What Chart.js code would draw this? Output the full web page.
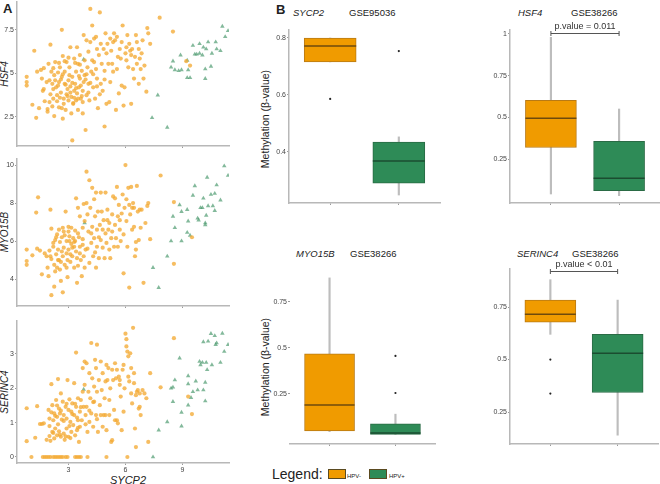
<!DOCTYPE html>
<html>
<head>
<meta charset="utf-8">
<script src="https://cdn.jsdelivr.net/npm/chart.js@4.4.1/dist/chart.umd.min.js"></script>
<style>
html, body { margin: 0; padding: 0; background: #fff; }
body { width: 660px; height: 484px; position: relative; overflow: hidden; font-family: "Liberation Sans", Arial, sans-serif; color: #222; }
canvas { position: absolute; }
.t { position: absolute; white-space: nowrap; line-height: 1; }
.it { font-style: italic; }
.rot { transform: translate(-50%, -50%) rotate(-90deg); }
.key { position: absolute; width: 16px; height: 8px; border: 1px solid #5a4a20; }
</style>
</head>
<body>
<div class="t" style="left:3px;top:2px;font-size:13px;font-weight:bold;">A</div>
<div class="t" style="left:276px;top:3px;font-size:13px;font-weight:bold;">B</div>

<div class="t it rot" style="left:5px;top:74px;font-size:10px;">HSF4</div>
<div class="t it rot" style="left:5px;top:232px;font-size:10px;">MYO15B</div>
<div class="t it rot" style="left:5px;top:392px;font-size:10px;">SERINC4</div>
<div class="t it" style="left:110px;top:475px;font-size:11px;">SYCP2</div>

<div class="t it" style="left:293px;top:8px;font-size:9.5px;">SYCP2</div>
<div class="t" style="left:349px;top:8px;font-size:9.5px;">GSE95036</div>
<div class="t it" style="left:518px;top:8px;font-size:9.5px;">HSF4</div>
<div class="t" style="left:571px;top:8px;font-size:9.5px;">GSE38266</div>
<div class="t it" style="left:296px;top:249px;font-size:9.5px;">MYO15B</div>
<div class="t" style="left:350px;top:249px;font-size:9.5px;">GSE38266</div>
<div class="t it" style="left:517px;top:249px;font-size:9.5px;">SERINC4</div>
<div class="t" style="left:572px;top:249px;font-size:9.5px;">GSE38266</div>

<div class="t rot" style="left:265px;top:119px;font-size:10.5px;">Methylation (β-value)</div>
<div class="t rot" style="left:265px;top:367px;font-size:10.5px;">Methylation (β-value)</div>

<div class="t" style="left:272px;top:467px;font-size:14px;">Legend:</div>
<div class="key" style="left:328px;top:469px;background:#f09b00;"></div>
<div class="t" style="left:347px;top:473px;font-size:6px;">HPV-</div>
<div class="key" style="left:369px;top:469px;background:#2e8b57;"></div>
<div class="t" style="left:389px;top:473px;font-size:6px;">HPV+</div>

<canvas id="s1"></canvas>
<canvas id="s2"></canvas>
<canvas id="s3"></canvas>
<canvas id="b1"></canvas>
<canvas id="b2"></canvas>
<canvas id="b3"></canvas>
<canvas id="b4"></canvas>

<script>
// ---- panel A: expression vs SYCP2 (x, y) ----
var hsf4Neg = [
  [0.8,4.8],[0.8,4.5],[0.8,4.3],[1.1,3.2],[1.2,6.3],[1.3,2.45],[1.35,5.1],[1.45,3.0],[1.55,5.2],[1.6,4.7],
  [1.65,4.0],[1.7,5.3],[1.7,4.1],[1.9,2.95],[1.9,2.8],[1.95,5.55],[2.0,3.35],[2.05,6.65],[2.0,4.6],[2.1,5.1],
  [2.15,4.4],[2.2,4.1],[2.2,3.55],[2.25,4.9],[2.25,2.55],[2.3,5.65],[2.35,4.2],[2.4,3.75],[2.45,5.05],[2.5,3.05],
  [2.5,4.5],[2.55,5.35],[2.6,3.9],[2.65,7.5],[2.65,4.8],[2.7,2.4],[2.7,6.0],[2.75,3.55],[2.8,4.4],[2.8,5.1],
  [2.85,2.9],[2.9,3.8],[2.9,5.65],[2.95,4.1],[3.0,4.6],[3.0,3.45],[3.05,5.35],[3.1,6.5],[3.1,4.25],[3.15,3.65],
  [3.2,1.15],[3.2,4.8],[3.25,3.25],[3.3,5.85],[3.3,4.0],[3.35,4.4],[3.4,3.45],[3.4,5.1],[3.45,6.5],[3.45,3.85],
  [3.5,5.55],[3.5,2.9],[3.55,4.2],[3.6,4.7],[3.6,6.05],[3.65,3.55],[3.7,5.15],[3.75,4.0],[3.75,2.7],[3.8,4.5],
  [3.8,7.2],[3.85,5.75],[3.85,4.9],[3.9,1.75],[3.95,3.75],[3.95,6.9],[4.0,5.35],[4.05,4.4],[4.05,6.25],[4.1,3.45],
  [4.15,6.8],[4.15,8.7],[4.2,5.1],[4.25,7.75],[4.25,5.75],[4.3,4.2],[4.35,7.0],[4.35,5.65],[4.4,3.55],[4.45,5.25],
  [4.45,7.1],[4.5,4.7],[4.5,6.4],[4.55,3.0],[4.6,6.05],[4.65,8.5],[4.7,4.4],[4.7,6.7],[4.75,5.55],[4.8,4.0],
  [4.85,6.4],[4.9,1.95],[4.9,5.15],[4.95,7.3],[5.0,6.15],[5.0,3.25],[5.05,6.7],[5.1,5.55],[5.15,3.35],[5.2,4.5],
  [5.2,7.0],[5.25,6.3],[5.3,5.55],[5.35,6.8],[5.35,5.1],[5.4,7.3],[5.45,6.9],[5.5,2.9],[5.55,5.25],[5.55,7.1],
  [5.6,5.95],[5.65,3.85],[5.7,6.4],[5.75,5.85],[5.8,6.8],[5.8,4.3],[5.85,7.75],[5.9,3.15],[5.95,4.2],[6.0,6.15],
  [6.05,6.5],[6.05,5.75],[6.1,7.2],[6.15,5.35],[6.2,6.7],[6.25,6.3],[6.3,3.25],[6.3,6.05],[6.35,6.4],[6.4,5.25],
  [6.45,4.7],[6.5,5.95],[6.55,7.2],[6.6,5.55],[6.6,6.8],[6.7,4.4],[6.7,6.4],[6.75,5.85],[6.8,5.25],[6.85,6.15],
  [6.9,6.9],[6.95,4.7],[7.0,5.45],[7.1,3.95],[7.15,7.6],[7.2,7.3],[7.3,6.7],[7.8,8.2],[8.5,7.4],[9.4,5.45],
  [9.2,5.7],
  [2.3,4.6],[2.45,4.3],[2.6,4.65],[2.7,4.95],[2.85,4.35],[2.95,3.7],[3.05,4.9],[3.2,4.45],[3.3,3.6],[3.4,4.15],
  [3.55,4.85],[3.65,4.3],[3.75,3.35],[3.9,4.65],[4.05,3.9],[2.4,3.4],[2.55,3.6],[2.75,3.25],[3.1,3.9],[3.25,3.3],
  [3.5,3.55],[3.7,3.7],[3.95,4.95],[4.15,4.45],[4.3,4.95],[4.5,4.25],[4.65,3.8],[4.9,4.65],[2.2,5.3],[2.5,5.6],
  [2.8,5.7],[3.0,5.9],[3.35,5.6],[3.6,5.5],[1.85,4.5],[2.05,3.8],[2.15,3.1],[1.75,3.4],[2.65,3.0],[3.15,2.7]
];
var hsf4Pos = [
  [3.8,5.8],[7.4,2.45],[7.7,3.75],[8.2,1.9],[8.4,5.35],[8.5,5.7],[8.6,5.2],[8.9,6.05],[8.8,5.15],[8.95,5.2],
  [9.25,5.75],[9.3,5.2],[9.25,4.75],[9.4,4.75],[9.55,6.6],[9.65,6.1],[9.75,6.1],[9.9,6.7],[9.9,6.15],[10.05,6.05],
  [10.1,6.5],[10.2,5.25],[10.2,4.7],[10.25,6.4],[10.35,6.8],[10.5,5.4],[10.55,6.15],[10.75,6.8],[10.8,6.4],[11.0,6.3],
  [11.25,7.1],[11.4,7.45],[11.1,7.7]
];
var myo15bNeg = [
  [0.8,5.55],[0.8,4.95],[0.8,4.75],[1.1,5.25],[1.3,7.5],[1.4,8.3],[1.35,5.6],[1.5,5.5],[1.6,4.25],[1.75,5.35],
  [1.85,5.2],[1.95,4.15],[2.0,5.5],[2.05,7.65],[2.1,6.65],[2.1,5.05],[2.1,3.15],[2.2,5.7],[2.25,4.75],[2.25,3.6],
  [2.3,6.05],[2.35,5.3],[2.4,6.35],[2.4,4.6],[2.45,5.55],[2.5,6.6],[2.5,5.0],[2.55,5.95],[2.6,3.9],[2.65,6.2],
  [2.7,5.2],[2.7,3.3],[2.75,5.65],[2.75,6.5],[2.8,4.75],[2.85,7.55],[2.9,6.0],[2.9,5.35],[2.95,4.1],[3.0,6.75],
  [3.0,5.55],[3.05,6.25],[3.1,4.9],[3.15,5.85],[3.15,6.7],[3.2,5.2],[3.25,6.15],[3.3,4.6],[3.3,5.7],[3.35,6.55],
  [3.4,8.25],[3.4,5.45],[3.45,3.8],[3.5,7.75],[3.5,4.7],[3.55,6.2],[3.6,5.35],[3.6,7.3],[3.65,5.0],[3.7,4.15],
  [3.75,6.7],[3.75,5.8],[3.8,7.95],[3.85,4.6],[3.85,7.05],[3.9,5.55],[3.95,8.0],[3.95,9.65],[4.0,7.4],[4.05,6.5],
  [4.1,4.85],[4.1,9.2],[4.15,7.75],[4.2,5.9],[4.25,8.8],[4.25,6.75],[4.3,5.2],[4.35,8.2],[4.35,6.15],[4.4,7.3],
  [4.45,4.6],[4.45,8.55],[4.5,6.6],[4.5,5.7],[4.55,7.55],[4.6,5.1],[4.65,6.85],[4.7,8.55],[4.7,6.05],[4.75,7.55],
  [4.8,6.6],[4.8,5.65],[4.85,7.1],[4.9,5.1],[4.95,6.4],[4.95,8.55],[5.0,5.9],[5.05,7.1],[5.05,7.65],[5.1,6.6],
  [5.15,5.55],[5.15,6.95],[5.2,5.1],[5.25,6.15],[5.3,7.4],[5.3,6.5],[5.35,8.35],[5.4,5.7],[5.45,6.85],[5.45,8.25],
  [5.5,6.15],[5.55,8.85],[5.6,7.3],[5.6,5.7],[5.65,7.9],[5.7,6.6],[5.7,7.1],[5.75,6.0],[5.8,7.45],[5.85,8.45],
  [5.9,4.3],[5.9,6.35],[5.95,7.75],[6.0,10.0],[6.05,7.05],[6.05,8.2],[6.1,5.7],[6.15,8.8],[6.2,3.55],[6.2,7.9],
  [6.25,7.4],[6.3,8.85],[6.35,6.6],[6.35,7.75],[6.4,8.0],[6.45,6.75],[6.45,7.75],[6.5,5.2],[6.55,5.55],[6.55,5.95],
  [6.6,8.9],[6.65,7.55],[6.7,6.05],[6.75,7.65],[6.8,6.7],[6.85,7.65],[6.95,3.8],[7.05,6.95],[7.15,7.85],[7.2,8.0],
  [7.3,6.1],[7.85,9.45],[8.55,8.05],[8.55,4.8],[9.5,6.2],
  [2.2,5.9],[2.35,6.2],[2.45,5.0],[2.55,4.5],[2.65,5.45],[2.8,6.3],[2.95,5.0],[3.05,6.0],[3.2,5.65],[3.35,6.0],
  [3.45,5.1],[3.6,5.7],[3.75,6.1],[2.3,4.4],[2.6,4.9],[2.9,4.6],[3.1,5.3],[3.3,5.95],[3.5,6.4],[2.05,5.2],
  [1.9,4.6],[2.7,6.7],[3.0,6.5],[3.8,5.2],[4.0,5.6],[4.2,6.4],[4.4,5.4],[4.6,6.2]
];
var myo15bPos = [
  [3.85,6.95],[7.45,4.6],[7.75,3.55],[8.2,5.2],[8.4,6.0],[8.5,7.3],[8.6,6.7],[8.85,7.9],[8.95,7.55],[8.95,6.0],
  [9.25,7.65],[9.3,7.05],[9.25,6.45],[9.4,6.3],[9.55,8.4],[9.65,8.9],[9.8,7.2],[9.85,7.1],[9.95,7.75],[10.05,7.75],
  [10.1,8.25],[10.2,6.95],[10.2,6.85],[10.25,7.35],[10.3,9.35],[10.35,7.85],[10.5,8.45],[10.6,7.85],[10.7,8.5],[10.7,7.6],
  [10.8,8.95],[11.0,8.15],[11.2,9.95],[11.4,9.45]
];
var serinc4Neg = [
  [1.05,0],[1.65,0],[1.75,0],[1.85,0],[1.95,0],[2.05,0],[2.2,0],[2.3,0],[2.4,0],[2.5,0],
  [2.6,0],[2.7,0],[2.85,0],[2.95,0],[3.35,0],[3.45,0],[3.55,0],[3.65,0],[4.0,0],[5.0,0],[6.1,0],
  [0.8,1.42],[0.8,0.46],[1.25,0.56],[1.35,1.48],[1.5,0.96],[1.6,0.96],[1.7,0.98],[1.85,0.5],[1.95,1.37],[2.0,1.12],
  [2.0,0.61],[2.05,0.47],[2.1,2.12],[2.15,1.51],[2.15,0.73],[2.2,1.07],[2.25,0.54],[2.25,1.27],[2.3,0.83],[2.35,1.66],
  [2.4,0.63],[2.4,1.17],[2.45,2.27],[2.5,1.41],[2.5,0.75],[2.55,1.27],[2.6,0.59],[2.6,1.85],[2.65,1.09],[2.7,1.61],
  [2.75,0.68],[2.75,1.22],[2.8,0.5],[2.85,1.46],[2.9,0.83],[2.9,1.12],[2.95,2.24],[3.0,0.59],[3.0,1.37],[3.05,1.68],
  [3.1,1.02],[3.15,0.73],[3.15,1.32],[3.2,1.56],[3.25,0.93],[3.3,1.22],[3.3,2.15],[3.35,0.63],[3.4,3.04],[3.4,1.46],
  [3.45,0.78],[3.5,1.71],[3.5,1.07],[3.55,0.44],[3.6,1.32],[3.6,0.88],[3.65,1.66],[3.7,1.07],[3.75,2.59],[3.75,1.9],
  [3.8,1.46],[3.85,2.78],[3.85,2.1],[3.9,1.22],[3.95,2.73],[3.95,1.46],[4.0,0.73],[4.05,1.9],[4.1,2.44],[4.1,1.02],
  [4.15,1.71],[4.2,3.32],[4.2,1.27],[4.25,2.29],[4.3,0.88],[4.35,2.05],[4.35,1.61],[4.4,2.83],[4.45,1.22],[4.45,2.59],
  [4.5,3.27],[4.5,1.9],[4.55,0.73],[4.6,2.24],[4.65,1.51],[4.7,2.78],[4.7,1.22],[4.75,1.95],[4.8,2.44],[4.8,0.88],
  [4.85,1.22],[4.9,1.71],[4.95,2.2],[4.95,1.22],[5.0,0.78],[5.0,2.68],[5.05,2.24],[5.1,2.59],[5.15,1.66],[5.15,1.22],
  [5.2,2.0],[5.25,0.44],[5.3,0.49],[5.3,2.54],[5.35,2.24],[5.4,1.37],[5.45,1.07],[5.45,2.73],[5.5,2.29],[5.55,1.07],
  [5.55,2.54],[5.6,0.98],[5.65,2.34],[5.7,2.1],[5.7,2.24],[5.75,1.76],[5.8,0.78],[5.85,2.54],[5.9,2.68],[5.9,1.32],
  [5.95,2.0],[6.0,3.59],[6.05,3.43],[6.05,3.22],[6.1,3.07],[6.15,2.34],[6.15,2.93],[6.2,2.2],[6.25,3.02],[6.3,2.59],
  [6.3,1.85],[6.35,1.56],[6.4,3.76],[6.45,2.44],[6.45,2.15],[6.5,0.83],[6.55,0.29],[6.55,1.8],[6.6,1.9],[6.65,1.95],
  [6.7,1.41],[6.75,1.85],[6.75,1.46],[6.8,1.22],[6.9,1.95],[7.0,1.85],[7.1,1.71],[7.2,0.44],[7.3,2.44],[7.85,2.03],
  [8.55,3.46],[9.3,1.76],[9.5,1.25],
  [2.3,1.2],[2.45,0.95],[2.6,1.35],[2.75,1.05],[2.9,1.55],[3.05,0.9],[3.2,1.25],[3.35,1.55],[3.5,0.85],[2.2,0.7],
  [2.55,0.65],[2.85,0.6],[3.1,0.55],[3.45,1.15],[3.65,1.45],[3.9,0.95],[4.1,1.35],[4.3,1.6],[4.5,1.1],[2.4,1.5],
  [2.1,1.3],[2.0,0.9]
];
var serinc4Pos = [
  [3.8,1.97],[7.45,0],[7.75,0.78],[8.2,1.02],[8.4,2.0],[8.5,2.03],[8.6,2.24],[8.5,1.61],[8.85,2.88],[8.95,1.3],
  [8.95,0.9],[9.3,2.36],[9.3,2.13],[9.3,1.51],[9.45,1.73],[9.55,1.9],[9.7,2.21],[9.8,1.95],[9.9,2.78],[9.95,2.68],
  [10.05,2.75],[10.1,1.95],[10.1,3.35],[10.2,2.17],[10.2,1.63],[10.25,2.75],[10.3,2.54],[10.35,3.37],[10.5,3.59],[10.55,2.68],
  [10.7,3.53],[10.75,3.27],[10.8,3.32],[11.0,2.75],[11.2,3.07],[11.4,3.27],[11.1,3.6]
];
var sycp2Ticks = [3, 6, 9];
var hsf4Ticks = [2.5, 5, 7.5];
var myo15bTicks = [4, 6, 8, 10];
var serinc4Ticks = [0, 1, 2, 3];

// ---- panel B: box stats per group [low whisker, q1, median, q3, high whisker] ----
var groups = ['HPV-', 'HPV+'];
var sycp2Box = [[0.716, 0.716, 0.772, 0.8, 0.8], [0.249, 0.291, 0.368, 0.435, 0.453]];
var sycp2Out = [[1, 0.586], [2, 0.754]];
var hsf4Box = [[0.04, 0.319, 0.494, 0.602, 0.98], [0.03, 0.06, 0.135, 0.356, 0.55]];
var hsf4Out = [];
var myo15bBox = [[0.045, 0.049, 0.19, 0.467, 0.88], [0.03, 0.03, 0.038, 0.087, 0.14]];
var myo15bOut = [[2, 0.456], [2, 0.255]];
var serinc4Box = [[0.62, 0.678, 0.716, 0.783, 0.88], [0.14, 0.343, 0.53, 0.62, 0.783]];
var serinc4Out = [[1, 0.5], [1, 0.338]];
var sycp2BTicks = [0.4, 0.6, 0.8];
var hsf4BTicks = [0.25, 0.5, 0.75, 1];
var myo15bBTicks = [0.25, 0.5, 0.75];
var serinc4BTicks = [0.25, 0.5, 0.75];

var ORANGE_PT = 'rgba(243,170,52,0.78)';
var GREEN_PT = 'rgba(72,152,108,0.68)';
var BOX_FILL = ['#f09b00', '#2e8b57'];
var BOX_LINE = ['#b97a14', '#2a6b45'];
var MED_LINE = ['#6e4a0c', '#1b4d30'];
var PAD_T = 8;

function place(id, box, yW, xH) {
  // box = plot area [left, top, right, bottom] in page pixels
  var c = document.getElementById(id);
  var left = box[0] - yW;
  c.width = box[2] + 2 - left;
  c.height = PAD_T + (box[3] - box[1]) + xH;
  c.style.left = left + 'px';
  c.style.top = (box[1] - PAD_T) + 'px';
  return c.getContext('2d');
}

function fixedTicks(list) {
  return function (scale) { scale.ticks = list.map(function (v) { return { value: v }; }); };
}

function axis(min, max, list, size, showLabels, showBorder) {
  return {
    type: 'linear', min: min, max: max, offset: false,
    afterBuildTicks: fixedTicks(list),
    afterFit: function (s) { if (s.isHorizontal()) { s.height = size; } else { s.width = size; } },
    grid: { offset: false, drawOnChartArea: false, drawTicks: true, tickLength: 2, color: '#9a9a9a' },
    border: { display: showBorder !== false, color: '#b8b8b8', width: 1.5 },
    ticks: {
      padding: 1, color: '#444', font: { size: 7, family: 'Liberation Sans' },
      callback: function (v) { return showLabels ? String(v) : ''; }
    }
  };
}

function pts(list) { return list.map(function (p) { return { x: p[0], y: p[1] }; }); }

function scatterPanel(id, box, xH, neg, pos, yMin, yMax, yTicks, xLabels) {
  var ctx = place(id, box, 17, xH);
  new Chart(ctx, {
    type: 'scatter',
    data: {
      datasets: [{
        data: pts(neg), backgroundColor: ORANGE_PT, borderWidth: 0, pointRadius: 2.1
      }, {
        data: pts(pos), backgroundColor: GREEN_PT, borderWidth: 0, pointRadius: 2.6, pointStyle: 'triangle'
      }]
    },
    options: {
      responsive: false, animation: false, events: [],
      layout: { padding: { top: PAD_T, right: 2, left: 0, bottom: 0 } },
      plugins: { legend: { display: false }, tooltip: { enabled: false } },
      scales: {
        x: axis(0.29, 11.45, sycp2Ticks, xH, xLabels),
        y: axis(yMin, yMax, yTicks, 17, true)
      }
    }
  });
}

scatterPanel('s1', [17, 2, 231, 146], 8, hsf4Neg, hsf4Pos, 0.83, 9.1, hsf4Ticks, false);
scatterPanel('s2', [17, 159, 231, 306], 8, myo15bNeg, myo15bPos, 2.58, 10.32, myo15bTicks, false);
scatterPanel('s3', [17, 321, 231, 463], 14, serinc4Neg, serinc4Pos, -0.175, 3.96, serinc4Ticks, true);

var medianLines = {
  id: 'medianLines',
  afterDatasetsDraw: function (chart, args, o) {
    var meta = chart.getDatasetMeta(1), ctx = chart.ctx, y = chart.scales.y;
    meta.data.forEach(function (bar, i) {
      var py = y.getPixelForValue(o.stats[i][2]);
      ctx.save();
      ctx.strokeStyle = MED_LINE[i];
      ctx.lineWidth = 1.5;
      ctx.beginPath();
      ctx.moveTo(bar.x - bar.width / 2, py);
      ctx.lineTo(bar.x + bar.width / 2, py);
      ctx.stroke();
      ctx.restore();
    });
  }
};

var pBracket = {
  id: 'pBracket',
  afterDraw: function (chart, args, o) {
    if (!o.text) return;
    var ctx = chart.ctx;
    var x1 = chart.scales.x.getPixelForValue(1), x2 = chart.scales.x.getPixelForValue(2);
    var py = Math.round(chart.scales.y.getPixelForValue(o.y)) + 0.5;
    ctx.save();
    ctx.strokeStyle = '#555';
    ctx.lineWidth = 1;
    ctx.beginPath();
    ctx.moveTo(x1, py); ctx.lineTo(x2, py);
    ctx.moveTo(x1, py - 2.5); ctx.lineTo(x1, py + 2.5);
    ctx.moveTo(x2, py - 2.5); ctx.lineTo(x2, py + 2.5);
    ctx.stroke();
    ctx.fillStyle = '#333';
    ctx.font = '9px "Liberation Sans", Arial, sans-serif';
    ctx.textAlign = 'center';
    ctx.textBaseline = 'bottom';
    ctx.fillText(o.text, (x1 + x2) / 2, py - 2);
    ctx.restore();
  }
};

function boxPanel(id, box, yW, stats, outliers, yMin, yMax, yTicks, showYLine, pText, pY) {
  var ctx = place(id, box, yW, 8);
  // ggplot-style discrete axis: 2 groups over 2.2 units, boxes 0.75 unit wide
  var boxW = Math.round(0.75 * (box[2] - box[0]) / 2.2);
  new Chart(ctx, {
    type: 'bar',
    data: {
      datasets: [{
        // whiskers
        data: stats.map(function (s, i) { return { x: i + 1, y: [s[0], s[4]] }; }),
        backgroundColor: '#bdbdbd', barThickness: 1.5, grouped: false, order: 3
      }, {
        // boxes
        data: stats.map(function (s, i) { return { x: i + 1, y: [s[1], s[3]] }; }),
        backgroundColor: BOX_FILL, borderColor: BOX_LINE, borderWidth: 1, borderSkipped: false,
        grouped: false, barThickness: boxW, order: 2
      }, {
        type: 'scatter',
        data: outliers.map(function (p) { return { x: p[0], y: p[1] }; }),
        backgroundColor: '#222', borderWidth: 0, pointRadius: 1.1, order: 1
      }]
    },
    options: {
      responsive: false, animation: false, events: [],
      layout: { padding: { top: PAD_T, right: 2, left: 0, bottom: 0 } },
      plugins: {
        legend: { display: false }, tooltip: { enabled: false },
        medianLines: { stats: stats },
        pBracket: { text: pText, y: pY }
      },
      scales: {
        x: axis(0.4, 2.6, [1, 2], 8, false),
        y: axis(yMin, yMax, yTicks, yW, true, showYLine)
      }
    },
    plugins: [medianLines, pBracket]
  });
}

boxPanel('b1', [289, 30, 442, 203], 27, sycp2Box, sycp2Out, 0.221, 0.828, sycp2BTicks, true, null, 0);
boxPanel('b2', [510, 30, 660, 203], 20, hsf4Box, hsf4Out, -0.014, 1.024, hsf4BTicks, true, 'p.value = 0.011', 1.006);
boxPanel('b3', [290, 265, 437, 444], 27, myo15bBox, myo15bOut, -0.022, 0.95, myo15bBTicks, false, null, 0);
boxPanel('b4', [510, 269, 660, 444], 20, serinc4Box, serinc4Out, 0.098, 0.931, serinc4BTicks, true, 'p.value < 0.01', 0.921);
</script>
</body>
</html>
